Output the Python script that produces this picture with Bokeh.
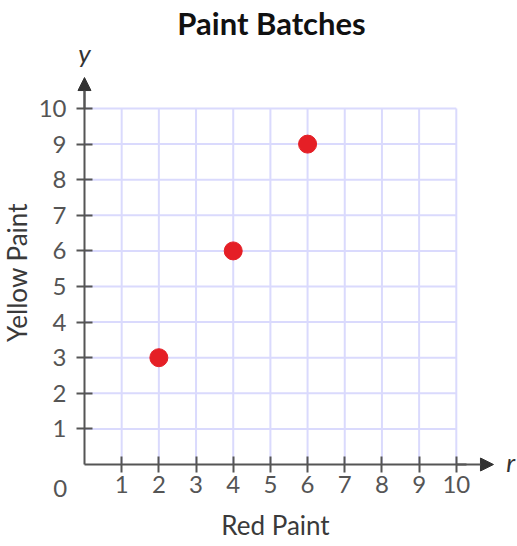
from bokeh.plotting import figure
from bokeh.models import Range1d, FixedTicker, Label, Arrow, NormalHead
from bokeh.embed import file_html
from bokeh.resources import INLINE

# ---- data ----
red_paint = [2, 4, 6]
yellow_paint = [3, 6, 9]
x_ticks = [1, 2, 3, 4, 5, 6, 7, 8, 9, 10]
y_ticks = [1, 2, 3, 4, 5, 6, 7, 8, 9, 10]
grid_max = 10
title_text = "Paint Batches"
x_label_text = "Red Paint"
y_label_text = "Yellow Paint"

AXIS = "#555555"
GRID = "#dadafd"
FONT = "Lato"
X_END = 11.0
Y_END = 10.87

p = figure(
    width=517, height=546,
    x_range=Range1d(-2.259, 11.646), y_range=Range1d(-2.303, 13.034),
    output_backend="svg", toolbar_location=None,
)
p.min_border = 0
p.min_border_left = 0
p.min_border_right = 0
p.min_border_top = 0
p.min_border_bottom = 0
p.outline_line_color = None
p.xgrid.visible = False
p.ygrid.visible = False

# grid (stops at 10)
p.segment(x0=x_ticks, y0=[0] * len(x_ticks), x1=x_ticks, y1=[grid_max] * len(x_ticks),
          line_color=GRID, line_width=2)
p.segment(x0=[0] * len(y_ticks), y0=y_ticks, x1=[grid_max] * len(y_ticks), y1=y_ticks,
          line_color=GRID, line_width=2)

for ax, ticks in ((p.xaxis[0], x_ticks), (p.yaxis[0], y_ticks)):
    ax.fixed_location = 0
    ax.ticker = FixedTicker(ticks=ticks)
    ax.minor_tick_line_color = None
    ax.axis_line_color = AXIS
    ax.axis_line_width = 2
    ax.major_tick_line_color = AXIS
    ax.major_tick_line_width = 2
    ax.major_tick_in = 8
    ax.major_tick_out = 8
    ax.major_label_text_font = FONT
    ax.major_label_text_font_size = "24px"
    ax.major_label_text_color = AXIS

p.xaxis.bounds = (0, 10.28)
p.yaxis.bounds = (0, 10.78)
p.xaxis.major_label_standoff = 3
p.yaxis.major_label_standoff = 10

p.xaxis.axis_label = x_label_text
p.yaxis.axis_label = y_label_text
for ax in (p.xaxis[0], p.yaxis[0]):
    ax.axis_label_text_font = FONT
    ax.axis_label_text_font_size = "26px"
    ax.axis_label_text_font_style = "normal"
    ax.axis_label_text_color = "#3a3a3a"
p.yaxis.axis_label_standoff = 3
p.xaxis.axis_label_standoff = 13

# axis arrows
p.add_layout(Arrow(x_start=grid_max, y_start=0, x_end=X_END, y_end=0,
                   line_color=AXIS, line_width=2,
                   end=NormalHead(size=13, fill_color="#333333", line_color="#333333")))
p.add_layout(Arrow(x_start=0, y_start=grid_max, x_end=0, y_end=Y_END,
                   line_color=AXIS, line_width=2,
                   end=NormalHead(size=13, fill_color="#333333", line_color="#333333")))

# points
p.scatter(red_paint, yellow_paint, size=18, color="#e51f26", line_color="#e51f26")

# texts
p.add_layout(Label(x=5.03, y=12.39, text=title_text, text_font=FONT, text_font_style="bold",
                   text_font_size="31px", text_color="#111111",
                   text_align="center", text_baseline="middle"))
p.add_layout(Label(x=0.0, y=11.57, text="y", text_font=FONT, text_font_style="italic",
                   text_font_size="26px", text_color="#333333",
                   text_align="center", text_baseline="middle"))
p.add_layout(Label(x=11.46, y=0.06, text="r", text_font=FONT, text_font_style="italic",
                   text_font_size="26px", text_color="#333333",
                   text_align="center", text_baseline="middle"))
p.add_layout(Label(x=-0.65, y=-0.67, text="0", text_font=FONT,
                   text_font_size="24px", text_color=AXIS,
                   text_align="center", text_baseline="middle"))

open("out.html", "w").write(file_html(p, INLINE))
